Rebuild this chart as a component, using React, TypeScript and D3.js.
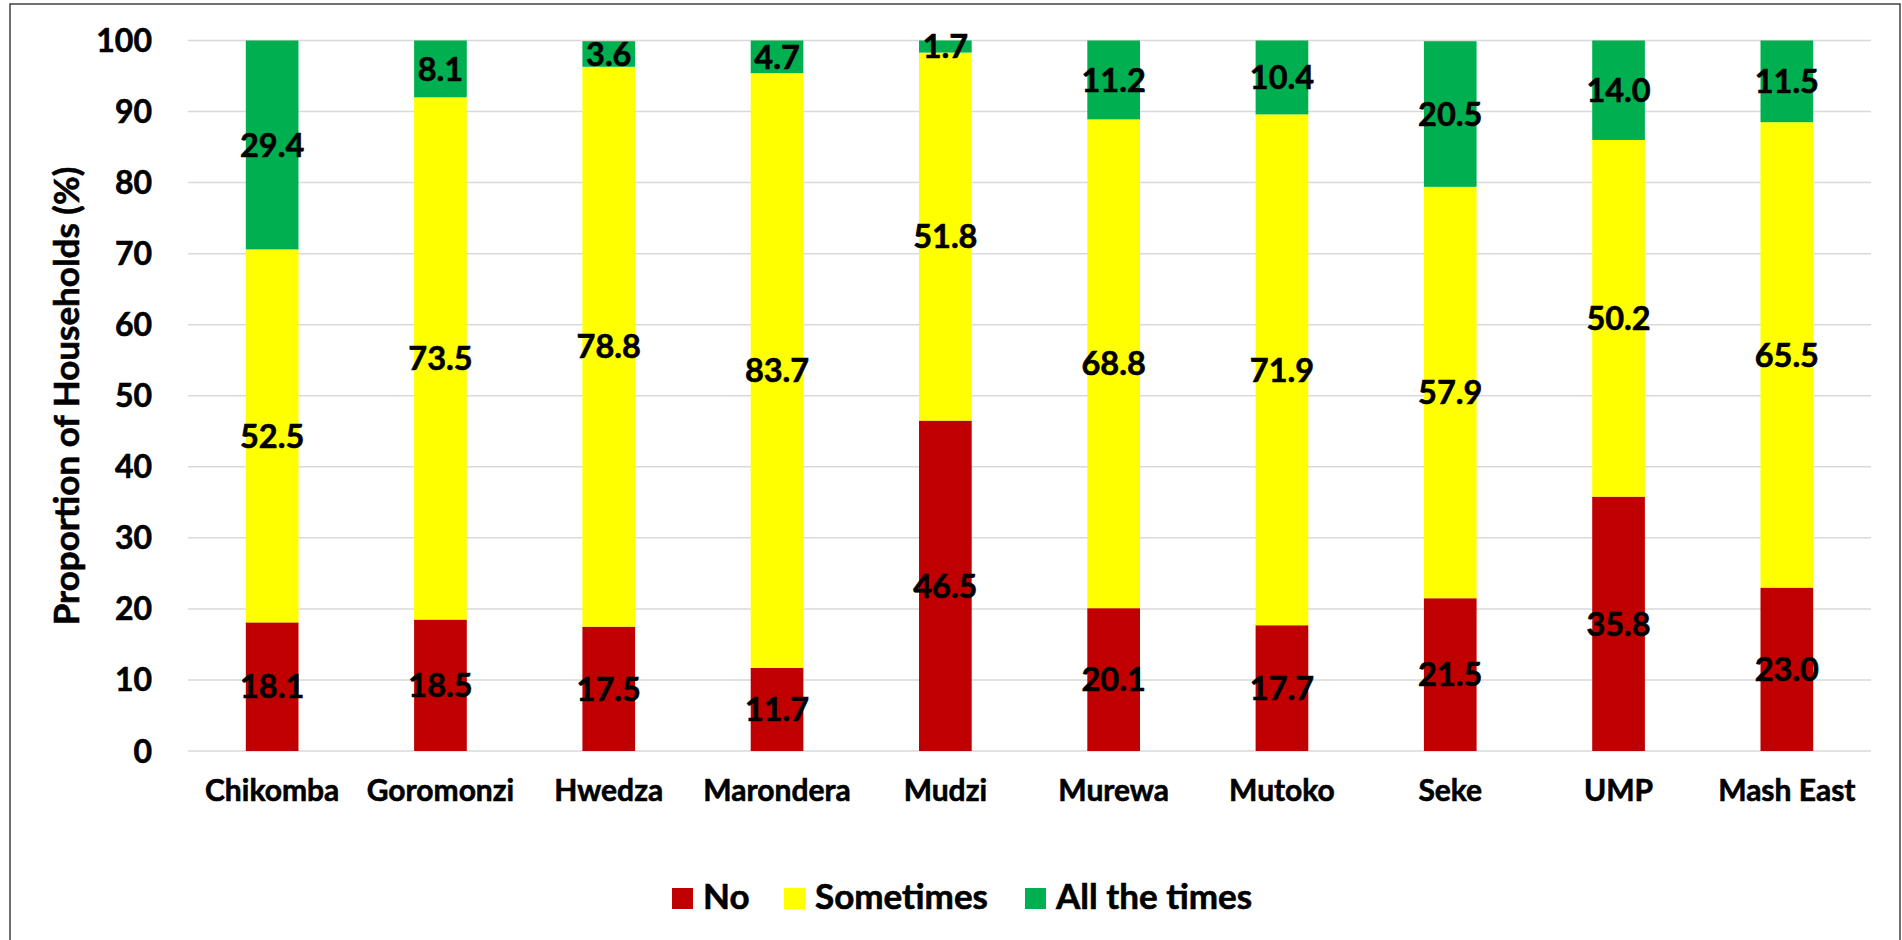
import React from "react";
import * as d3 from "d3";

const districts = ["Chikomba", "Goromonzi", "Hwedza", "Marondera", "Mudzi", "Murewa", "Mutoko", "Seke", "UMP", "Mash East"];
const noValues = [18.1, 18.5, 17.5, 11.7, 46.5, 20.1, 17.7, 21.5, 35.8, 23.0];
const sometimesValues = [52.5, 73.5, 78.8, 83.7, 51.8, 68.8, 71.9, 57.9, 50.2, 65.5];
const allTheTimesValues = [29.4, 8.1, 3.6, 4.7, 1.7, 11.2, 10.4, 20.5, 14.0, 11.5];
const seriesNames = ["No", "Sometimes", "All the times"];
const seriesColors = ["#C00000", "#FFFF00", "#00B050"];
const yTicks = [0, 10, 20, 30, 40, 50, 60, 70, 80, 90, 100];

const W = 1902;
const H = 940;
const FONT = "Lato, 'Open Sans', sans-serif";

// bold text with a hairline outline for a heavier stroke weight
const textStyle = { fontWeight: 700, fill: "#000", stroke: "#000", strokeWidth: 0.6 } as const;

export default function App() {
  const left = 188;
  const right = 1871;
  const top = 40.5;
  const bottom = 751;

  const x = d3.scaleBand<string>().domain(districts).range([left, right]).paddingInner(0.687).paddingOuter(0.3435);
  const y = d3.scaleLinear().domain([0, 100]).range([bottom, top]);

  const rows = districts.map((d, i) => ({
    district: d,
    No: noValues[i],
    Sometimes: sometimesValues[i],
    "All the times": allTheTimesValues[i],
  }));
  const stacked = d3.stack<any>().keys(seriesNames)(rows);

  const legendItems = [
    { name: "No", swatchX: 672, textX: 703 },
    { name: "Sometimes", swatchX: 784, textX: 815 },
    { name: "All the times", swatchX: 1025, textX: 1056 },
  ];

  return (
    <svg width={W} height={H} style={{ position: "absolute", left: 0, top: 0, display: "block" }} fontFamily={FONT}>
      <rect x={0} y={0} width={W} height={H} fill="#ffffff" />
      <rect x={10} y={4} width={1890} height={940} fill="none" stroke="#262626" strokeWidth={1.3} />

      {yTicks.map((t) => (
        <g key={t}>
          <line x1={left} x2={right} y1={y(t)} y2={y(t)} stroke="#d9d9d9" strokeWidth={1.5} />
          <text x={152} y={y(t)} dy="0.36em" textAnchor="end" fontSize={32} {...textStyle}>
            {t}
          </text>
        </g>
      ))}

      <text transform={`translate(79,396) rotate(-90)`} textAnchor="middle" fontSize={35} {...textStyle}>
        Proportion of Households (%)
      </text>

      {stacked.map((layer, si) => (
        <g key={layer.key}>
          {layer.map((seg, i) => {
            const y0 = Math.min(seg[0], 100);
            const y1 = Math.min(seg[1], 100);
            return (
              <rect
                key={i}
                x={x(districts[i])}
                width={x.bandwidth()}
                y={y(y1)}
                height={y(y0) - y(y1)}
                fill={seriesColors[si]}
              />
            );
          })}
        </g>
      ))}

      {stacked.map((layer) => (
        <g key={layer.key + "-labels"}>
          {layer.map((seg, i) => {
            const v = seg.data[layer.key] as number;
            const mid = (Math.min(seg[0], 100) + Math.min(seg[1], 100)) / 2;
            return (
              <text
                key={i}
                x={(x(districts[i]) as number) + x.bandwidth() / 2}
                y={y(mid)}
                dy="0.36em"
                textAnchor="middle"
                fontSize={32.5}
                {...textStyle}
              >
                {v.toFixed(1)}
              </text>
            );
          })}
        </g>
      ))}

      {districts.map((d) => (
        <text key={d} x={(x(d) as number) + x.bandwidth() / 2} y={801} textAnchor="middle" fontSize={30} {...textStyle}>
          {d}
        </text>
      ))}

      {legendItems.map((it, i) => (
        <g key={it.name}>
          <rect x={it.swatchX} y={888} width={21} height={21} fill={seriesColors[i]} />
          <text x={it.textX} y={909} fontSize={35} {...textStyle}>
            {it.name}
          </text>
        </g>
      ))}
    </svg>
  );
}
